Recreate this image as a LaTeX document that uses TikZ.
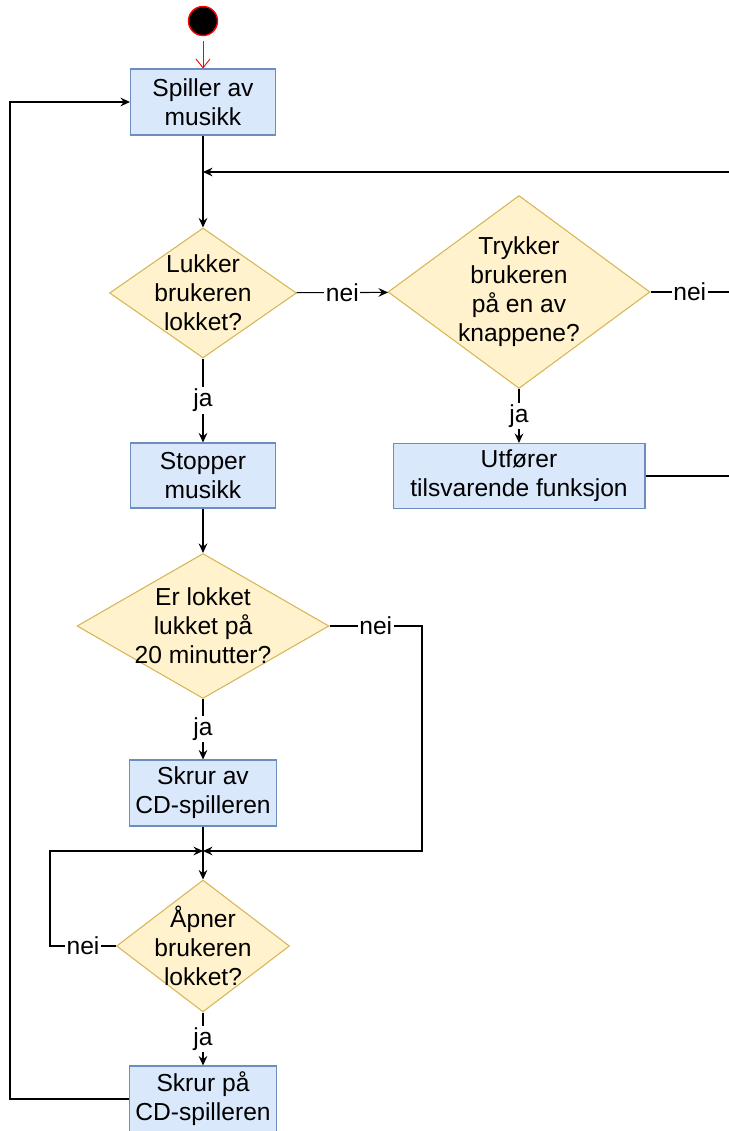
\documentclass[tikz,border=0pt]{standalone}
\usepackage{fontspec}
\setmainfont{Liberation Sans}
\usetikzlibrary{shapes.geometric,arrows.meta}
\definecolor{boxfill}{HTML}{DAE8FC}
\definecolor{boxline}{HTML}{6C8EBF}
\definecolor{decfill}{HTML}{FFF2CC}
\definecolor{decline}{HTML}{D6B656}
\begin{document}
\begin{tikzpicture}[x=0.02cm, y=-0.02cm, line width=0.6pt,
    font=\fontsize{14}{16.5}\selectfont,
    box/.style={draw=boxline, fill=boxfill, align=center,
      minimum width=2.9cm, minimum height=1.32cm},
    decision/.style={diamond, draw=decline, fill=decfill, inner sep=0pt},
    arr/.style={-{Stealth[length=5.5pt,width=5pt,inset=2pt]}},
    lbl/.style={fill=white, inner sep=1pt}]
  \useasboundingbox (0,0) rectangle (729,1131);

  \node[circle, fill=black, draw=red, line width=0.8pt, minimum size=0.58cm, inner sep=0pt] (start) at (203,21) {};
  \node[box] (spiller) at (203,102) {Spiller av\\musikk};
  \node[decision, minimum width=3.74cm, minimum height=2.6cm,
    label={[align=center]center:Lukker\\brukeren\\lokket?}] (lukker) at (203,293) {};
  \node[decision, minimum width=5.24cm, minimum height=3.86cm,
    label={[align=center]center:Trykker\\brukeren\\på en av\\knappene?}] (trykker) at (519,292) {};
  \node[box, minimum width=5.04cm, minimum height=1.3cm] (utforer) at (519,476) {Utfører\\tilsvarende funksjon};
  \node[box, minimum height=1.3cm] (stopper) at (203,475.5) {Stopper\\musikk};
  \node[decision, minimum width=5.04cm, minimum height=2.9cm,
    label={[align=center]center:Er lokket\\lukket på\\20 minutter?}] (lukket) at (203,626) {};
  \node[box] (skrurav) at (203,793) {Skrur av\\CD-spilleren};
  \node[decision, minimum width=3.46cm, minimum height=2.64cm,
    label={[align=center]center:Åpner\\brukeren\\lokket?}] (apner) at (203,946) {};
  \node[box] (skrurpa) at (203,1099) {Skrur på\\CD-spilleren};

  \coordinate (inn) at (729,172);
  \coordinate (topp) at (203,172);
  \coordinate (ut1) at (729,292);
  \coordinate (ut2) at (729,476);
  \coordinate (samle) at (203,851);
  \coordinate (hoyre) at (422,851);
  \coordinate (venstre) at (50,851);
  \coordinate (retur) at (10,102);

  \draw[red, line width=0.5pt, -{Straight Barb[length=5pt,width=8pt]}, shorten <=3pt] (start) -- (spiller);
  \draw[arr] (spiller) -- (lukker);
  \draw[arr] (inn) -- (topp);
  \draw[arr] (lukker) -- node[lbl] {nei} (trykker);
  \draw (trykker.east) -- node[lbl] {nei} (ut1);
  \draw[arr] (trykker) -- node[lbl] {ja} (utforer);
  \draw (utforer.east) -- (ut2);
  \draw[arr] (lukker) -- node[lbl] {ja} (stopper);
  \draw[arr] (stopper) -- (lukket);
  \draw[arr] (lukket.east) -- node[lbl] {nei} (lukket.east -| hoyre) -- (hoyre) -- (samle);
  \draw[arr] (lukket) -- node[lbl] {ja} (skrurav);
  \draw[arr] (skrurav) -- (apner);
  \draw[arr] (apner.west) -- node[lbl] {nei} (apner.west -| venstre) -- (venstre) -- (samle);
  \draw[arr] (apner) -- node[lbl] {ja} (skrurpa);
  \draw[arr] (skrurpa.west) -| (retur) -- (spiller.west);
\end{tikzpicture}
\end{document}
